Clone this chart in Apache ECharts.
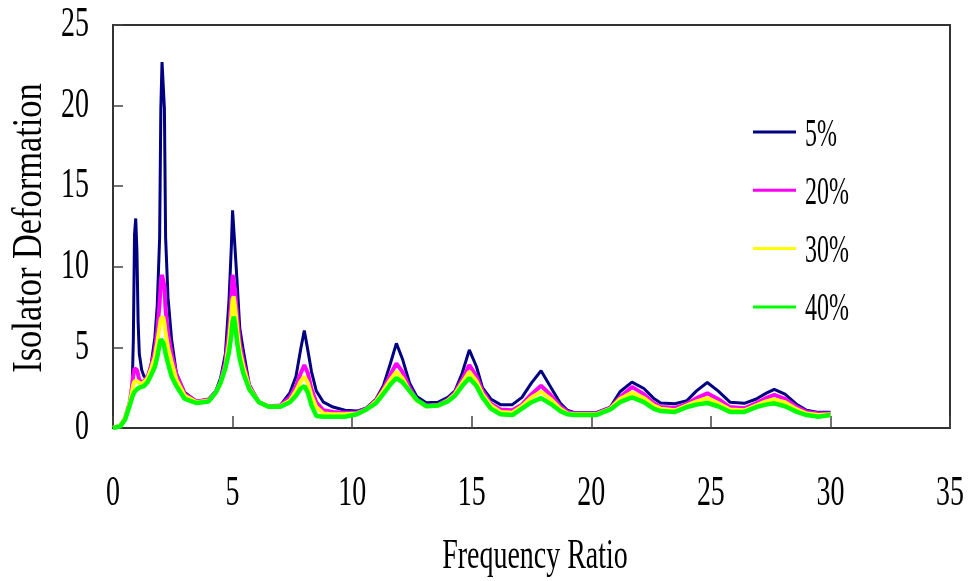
<!DOCTYPE html>
<html>
<head>
<meta charset="utf-8">
<script src="https://cdn.jsdelivr.net/npm/echarts@6/dist/echarts.min.js"></script>
<style>
  html, body { margin: 0; padding: 0; background: #fff; }
  #chart { width: 973px; height: 581px; }
</style>
</head>
<body>
<div id="chart"></div>
<script>
// Frequency ratio sample points (shared by every damping curve)
const freqRatio = [
  0, 0.3, 0.5, 0.7, 0.8, 0.85, 0.9, 0.95, 1.0, 1.05,
  1.1, 1.2, 1.3, 1.45, 1.6, 1.75, 1.85, 1.95, 2.0, 2.05,
  2.1, 2.15, 2.2, 2.3, 2.45, 2.65, 3.0, 3.5, 4.0, 4.3,
  4.5, 4.7, 4.85, 4.95, 5.0, 5.05, 5.1, 5.2, 5.3, 5.45,
  5.7, 6.1, 6.5, 7.0, 7.4, 7.65, 7.85, 8.0, 8.15, 8.3,
  8.5, 8.8, 9.2, 9.7, 10.2, 10.6, 11.0, 11.3, 11.6, 11.85,
  12.1, 12.4, 12.7, 13.1, 13.6, 14.0, 14.3, 14.6, 14.9, 15.2,
  15.45, 15.8, 16.2, 16.7, 17.1, 17.5, 17.9, 18.3, 18.7, 19.0,
  19.3, 20.2, 20.8, 21.2, 21.7, 22.2, 22.6, 22.9, 23.5, 24.0,
  24.4, 24.85, 25.3, 25.8, 26.4, 26.9, 27.3, 27.65, 28.1, 28.6,
  29.0, 29.5, 30.0
];

// Isolator deformation, damping 5%
const def5 = [
  0, 0.15, 0.6, 1.5, 2.5, 5.4, 12.0, 13.0, 11.0, 6.6,
  4.6, 3.6, 3.2, 3.1, 4.0, 5.6, 7.6, 11.8, 19.8, 22.7,
  22.7, 19.8, 11.8, 8.1, 5.5, 3.4, 2.2, 1.65, 1.8, 2.3,
  3.1, 4.6, 7.9, 11.3, 13.5, 13.5, 11.2, 8.8, 6.2, 4.8,
  2.7, 1.6, 1.35, 1.4, 2.2, 3.2, 4.9, 6.05, 4.8, 3.5,
  2.3, 1.6, 1.3, 1.1, 1.05, 1.25, 1.8, 2.6, 4.0, 5.25,
  4.3, 2.8, 1.95, 1.57, 1.6, 1.9, 2.3, 3.4, 4.85, 3.8,
  2.5, 1.8, 1.45, 1.45, 1.9, 2.8, 3.55, 2.55, 1.55, 1.1,
  0.95, 0.95, 1.3, 2.25, 2.85, 2.45, 1.85, 1.55, 1.5, 1.7,
  2.3, 2.82, 2.3, 1.6, 1.53, 1.8, 2.15, 2.4, 2.1, 1.45,
  1.1, 0.97, 0.97
];

// Isolator deformation, damping 20%
const def20 = [
  0, 0.15, 0.6, 1.6, 2.6, 3.3, 3.7, 3.8, 3.6, 3.3,
  3.0, 2.8, 2.9, 3.2, 3.9, 4.8, 6.0, 7.8, 9.0, 9.5,
  9.5, 8.8, 7.3, 5.9, 4.6, 3.3, 2.1, 1.65, 1.75, 2.25,
  2.9, 4.1, 6.0, 8.2, 9.5, 9.6, 8.6, 6.8, 5.3, 4.1,
  2.6, 1.6, 1.35, 1.4, 1.9, 2.6, 3.4, 3.9, 3.4, 2.4,
  1.6, 1.1, 1.0, 0.95, 0.95, 1.2, 1.7, 2.4, 3.3, 4.0,
  3.5, 2.5, 1.75, 1.4, 1.45, 1.75, 2.2, 3.0, 3.9, 3.2,
  2.3, 1.5, 1.15, 1.1, 1.45, 2.1, 2.62, 2.05, 1.35, 1.0,
  0.9, 0.9, 1.25, 1.9, 2.55, 2.1, 1.55, 1.3, 1.25, 1.5,
  1.85, 2.15, 1.8, 1.3, 1.22, 1.55, 1.85, 2.05, 1.8, 1.3,
  1.0, 0.9, 0.9
];

// Isolator deformation, damping 30%
const def30 = [
  0, 0.15, 0.6, 1.55, 2.3, 2.7, 2.9, 3.0, 2.9, 2.85,
  2.8, 2.75, 2.85, 3.1, 3.7, 4.4, 5.3, 6.3, 6.8, 6.9,
  6.9, 6.5, 5.9, 5.0, 4.1, 3.0, 2.0, 1.6, 1.7, 2.2,
  2.8, 3.8, 5.3, 7.0, 8.0, 8.15, 7.6, 6.0, 4.8, 3.8,
  2.5, 1.6, 1.33, 1.35, 1.7, 2.3, 2.9, 3.2, 2.8, 2.0,
  1.3, 0.9, 0.85, 0.85, 0.9, 1.15, 1.65, 2.3, 3.0, 3.5,
  3.1, 2.3, 1.7, 1.35, 1.4, 1.7, 2.1, 2.8, 3.5, 2.9,
  2.1, 1.4, 1.0, 0.95, 1.35, 1.9, 2.25, 1.8, 1.2, 0.9,
  0.85, 0.85, 1.2, 1.8, 2.2, 1.85, 1.4, 1.2, 1.1, 1.4,
  1.65, 1.85, 1.55, 1.15, 1.1, 1.4, 1.65, 1.78, 1.6, 1.15,
  0.9, 0.8, 0.85
];

// Isolator deformation, damping 40%
const def40 = [
  0, 0.1, 0.5, 1.4, 1.9, 2.1, 2.25, 2.35, 2.4, 2.45,
  2.5, 2.55, 2.6, 2.85, 3.3, 3.8, 4.4, 5.2, 5.5, 5.5,
  5.3, 5.0, 4.6, 4.0, 3.2, 2.6, 1.8, 1.55, 1.65, 2.2,
  2.8, 3.7, 4.7, 5.8, 6.6, 6.9, 6.5, 5.2, 4.3, 3.4,
  2.4, 1.6, 1.32, 1.32, 1.6, 2.0, 2.45, 2.6, 2.2, 1.4,
  0.75, 0.7, 0.7, 0.7, 0.85, 1.15, 1.55, 2.1, 2.7, 3.1,
  2.85, 2.3, 1.75, 1.35, 1.4, 1.65, 2.0, 2.6, 3.1, 2.6,
  1.9, 1.2, 0.85, 0.8, 1.2, 1.6, 1.85, 1.5, 1.05, 0.85,
  0.8, 0.8, 1.15, 1.6, 1.9, 1.6, 1.2, 1.05, 1.0, 1.3,
  1.45, 1.55, 1.35, 1.0, 1.0, 1.3, 1.45, 1.53, 1.35, 1.0,
  0.8, 0.7, 0.8
];

const seriesNames = ['5%', '20%', '30%', '40%'];
const xTicks = [0, 5, 10, 15, 20, 25, 30, 35];
const yTicks = [0, 5, 10, 15, 20, 25];
const xTitle = 'Frequency Ratio';
const yTitle = 'Isolator Deformation';

const seriesColors = ['#000080', '#ff00ff', '#ffff00', '#00ff00'];
const lineWidths = [3, 4, 4, 4.5];
const seriesData = [def5, def20, def30, def40];

const FONT = '"Liberation Serif", "Times New Roman", serif';
const NARROW = 0.65;

const chart = echarts.init(document.getElementById('chart'), null, { renderer: 'canvas' });

chart.setOption({
  animation: false,
  backgroundColor: '#ffffff',
  grid: {
    left: 113, right: 23, top: 25, bottom: 153,
    show: true, borderColor: '#333', borderWidth: 2, backgroundColor: 'transparent'
  },
  xAxis: {
    type: 'value', min: 0, max: 35, interval: 5,
    axisLine: { onZero: false, lineStyle: { color: '#333', width: 2 } },
    axisTick: { inside: true, length: 12, lineStyle: { color: '#444', width: 1.5 } },
    axisLabel: { show: false },
    splitLine: { show: false }
  },
  yAxis: {
    type: 'value', min: 0, max: 25, interval: 5,
    axisLine: { onZero: false, lineStyle: { color: '#333', width: 2 } },
    axisTick: { inside: true, length: 10, lineStyle: { color: '#444', width: 1.5 } },
    axisLabel: { show: false },
    splitLine: { show: false }
  },
  series: seriesData.map((ys, i) => ({
    name: seriesNames[i],
    type: 'line',
    symbol: 'none',
    smooth: false,
    z: 2 + i,
    data: freqRatio.map((x, j) => [x, ys[j]]),
    lineStyle: { color: seriesColors[i], width: lineWidths[i] },
    itemStyle: { color: seriesColors[i] }
  }))
});

// Narrow serif labels, placed through the axis scales
const graphics = [];
xTicks.forEach(v => {
  const p = chart.convertToPixel({ gridIndex: 0 }, [v, 0]);
  graphics.push({
    type: 'text', x: p[0], y: p[1] + 66, scaleX: NARROW,
    style: { text: String(v), fontSize: 43, fontFamily: FONT, fill: '#000', align: 'center', verticalAlign: 'middle' }
  });
});
yTicks.forEach(v => {
  const p = chart.convertToPixel({ gridIndex: 0 }, [0, v]);
  graphics.push({
    type: 'text', x: p[0] - 24, y: p[1], scaleX: NARROW,
    style: { text: String(v), fontSize: 43, fontFamily: FONT, fill: '#000', align: 'right', verticalAlign: 'middle' }
  });
});
graphics.push({
  type: 'text', x: 535, y: 557, scaleX: NARROW,
  style: { text: xTitle, fontSize: 43, fontFamily: FONT, fill: '#000', align: 'center', verticalAlign: 'middle' }
});
graphics.push({
  type: 'text', x: 30, y: 228, rotation: Math.PI / 2, scaleX: 0.8,
  style: { text: yTitle, fontSize: 43, fontFamily: FONT, fill: '#000', align: 'center', verticalAlign: 'middle' }
});

// Legend: short colour lines with labels
seriesNames.forEach((name, i) => {
  const y = 132 + 58.3 * i;
  graphics.push({
    type: 'line',
    shape: { x1: 753, y1: y, x2: 796, y2: y },
    style: { stroke: seriesColors[i], lineWidth: 3 }
  });
  graphics.push({
    type: 'text', x: 805, y: y + 3, scaleX: 0.6,
    style: { text: name, fontSize: 40, fontFamily: FONT, fill: '#000', align: 'left', verticalAlign: 'middle' }
  });
});

chart.setOption({ graphic: graphics });
</script>
</body>
</html>
